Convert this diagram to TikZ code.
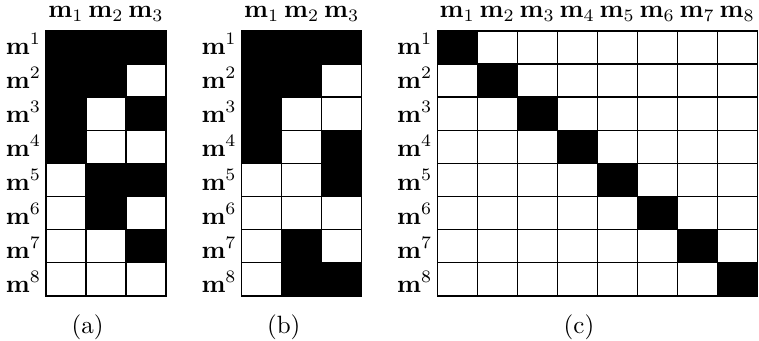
\documentclass[tikz,border=0pt]{standalone}
\usepackage{amsmath}
\usepackage{tikz}
\tikzset{
  cell/.style ={rectangle, draw, line width=0.6pt, inner sep=0pt, minimum width=16pt, minimum height=13.24pt},
  clbl/.style ={anchor=base, inner sep=0pt},
  rlbl/.style ={anchor=base east, inner sep=0pt},
  sublbl/.style ={anchor=base, inner sep=0pt},
}
\begin{document}
\begin{tikzpicture}[x=0.4pt, y=-0.4pt]
  \useasboundingbox (0,0) rectangle (759,340);
  % grid (a)
  \foreach \r/\row in {1/{1,1,1},2/{1,1,0},3/{1,0,1},4/{1,0,0},5/{0,1,1},6/{0,1,0},7/{0,0,1},8/{0,0,0}}{
    \foreach \v [count=\c] in \row {
      \pgfmathtruncatemacro\shade{100*\v}
      \node[cell, fill=black!\shade] (a-\r-\c) at ({46+40*(\c-0.5)},{31+33.1*(\r-0.5)}) {};
    }
  }
  % grid (b)
  \foreach \r/\row in {1/{1,1,1},2/{1,1,0},3/{1,0,0},4/{1,0,1},5/{0,0,1},6/{0,0,0},7/{0,1,0},8/{0,1,1}}{
    \foreach \v [count=\c] in \row {
      \pgfmathtruncatemacro\shade{100*\v}
      \node[cell, fill=black!\shade] (b-\r-\c) at ({241.7+40*(\c-0.5)},{31+33.1*(\r-0.5)}) {};
    }
  }
  % grid (c)
  \foreach \r in {1,...,8}{
    \foreach \c in {1,...,8}{
      \pgfmathtruncatemacro\shade{100*(\r==\c)}
      \node[cell, fill=black!\shade] (c-\r-\c) at ({437.3+40*(\c-0.5)},{31+33.1*(\r-0.5)}) {};
    }
  }
  % labels
  \foreach \g/\gx/\n in {a/46/3, b/241.7/3, c/437.3/8}{
    \foreach \c in {1,...,\n}
      \node[clbl] (\g-c\c) at ({\gx+40*(\c-0.5)},17.3) {$\mathbf{m}_{\c}$};
    \foreach \r in {1,...,8}
      \node[rlbl] (\g-r\r) at ({\gx-4.5},{54+34*(\r-1)}) {$\mathbf{m}^{\r}$};
  }
  \node[sublbl] (a-cap) at (87.5,333) {(a)};
  \node[sublbl] (b-cap) at (283.7,333) {(b)};
  \node[sublbl] (c-cap) at (579,333) {(c)};
\end{tikzpicture}
\end{document}
